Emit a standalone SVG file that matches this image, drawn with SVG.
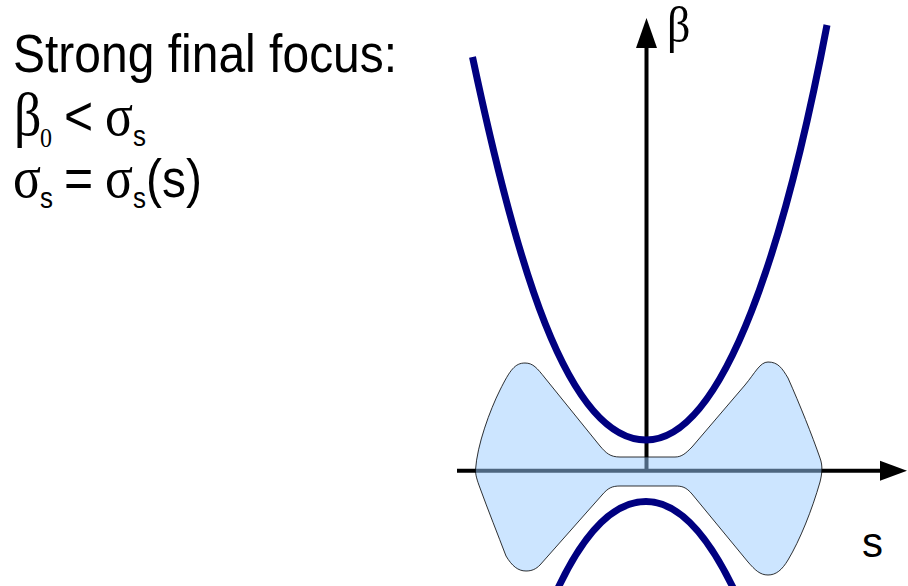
<svg xmlns="http://www.w3.org/2000/svg" width="908" height="586" viewBox="0 0 908 586">
<style>
.sans{font-family:"Liberation Sans",Arial,sans-serif;fill:#000}
.serif{font-family:"Liberation Serif","Times New Roman",serif;fill:#000}
.curve{fill:none;stroke:#000080;stroke-width:7}
.axis{stroke:#000;stroke-width:4;fill:none}
</style>
<rect width="908" height="586" fill="#fff"/>
<g id="connectors">
  <line class="axis" x1="457" y1="470.7" x2="882" y2="470.7"/>
  <polygon points="880,460.7 907,470.7 880,480.7" fill="#000"/>
  <line class="axis" x1="646.5" y1="470.7" x2="646.5" y2="46"/>
  <polygon points="636,48 646.5,18 657,48" fill="#000"/>
</g>
<g id="upper-curve">
  <path class="curve" d="M472.5,57 C514.8,257 566,440 646,440 C726,440 787,235 827,25"/>
</g>
<g id="lower-curve" transform="translate(0,941.5) scale(1,-1)">
  <path class="curve" d="M472.5,57 C514.8,257 566,440 646,440 C726,440 787,235 827,25"/>
</g>
<g id="beam">
  <path d="M475.5,470 C477,445 490,410 500,390 C510,370 515,363 525,363 C533,363 537,368 545,378 L600,446 C606,453 610,457 620,457 L675,457 C682,457 686,453 692,447 L745,385 C755,373 760,362 768,362 C778,362 782,368 788,378 C800,405 812,435 820,458 C823,466 822,474 820,482 C812,510 800,540 788,560 C782,570 776,575 768,575 C760,575 755,570 748,562 L692,494 C686,487 682,486 675,486 L620,486 C612,486 608,488 602,495 L540,565 C536,569 532,571 526,571 C518,571 512,566 506,556 C498,535 488,510 480,488 C477,480 475.5,475 475.5,470 Z" fill="#99ccff" fill-opacity="0.5" stroke="#000" stroke-opacity="0.8" stroke-width="1"/>
</g>
<g id="labels">
  <text class="serif" x="667" y="42" font-size="46" transform="translate(0,-4.2) scale(1,1.1)">β</text>
  <text class="sans" x="862" y="557" font-size="42">s</text>
</g>
<g id="title" transform="scale(1,1.12)">
  <text class="sans" x="13" y="64.3" font-size="48">Strong final focus:</text>
  <text class="serif" x="14" y="120.5" font-size="54">β</text>
  <text class="serif" x="40" y="131.2" font-size="24">0</text>
  <text class="sans" x="64" y="120.5" font-size="50">&lt;</text>
  <text class="serif" x="105" y="120.5" font-size="52">σ</text>
  <text class="sans" x="133" y="130" font-size="26">s</text>
  <text class="serif" x="13" y="175.9" font-size="52">σ</text>
  <text class="sans" x="40" y="185.7" font-size="26">s</text>
  <text class="sans" x="64" y="175.9" font-size="50">=</text>
  <text class="serif" x="105" y="175.9" font-size="52">σ</text>
  <text class="sans" x="133" y="185.7" font-size="26">s</text>
  <text class="sans" x="146" y="175.9" font-size="48">(s)</text>
</g>
</svg>
